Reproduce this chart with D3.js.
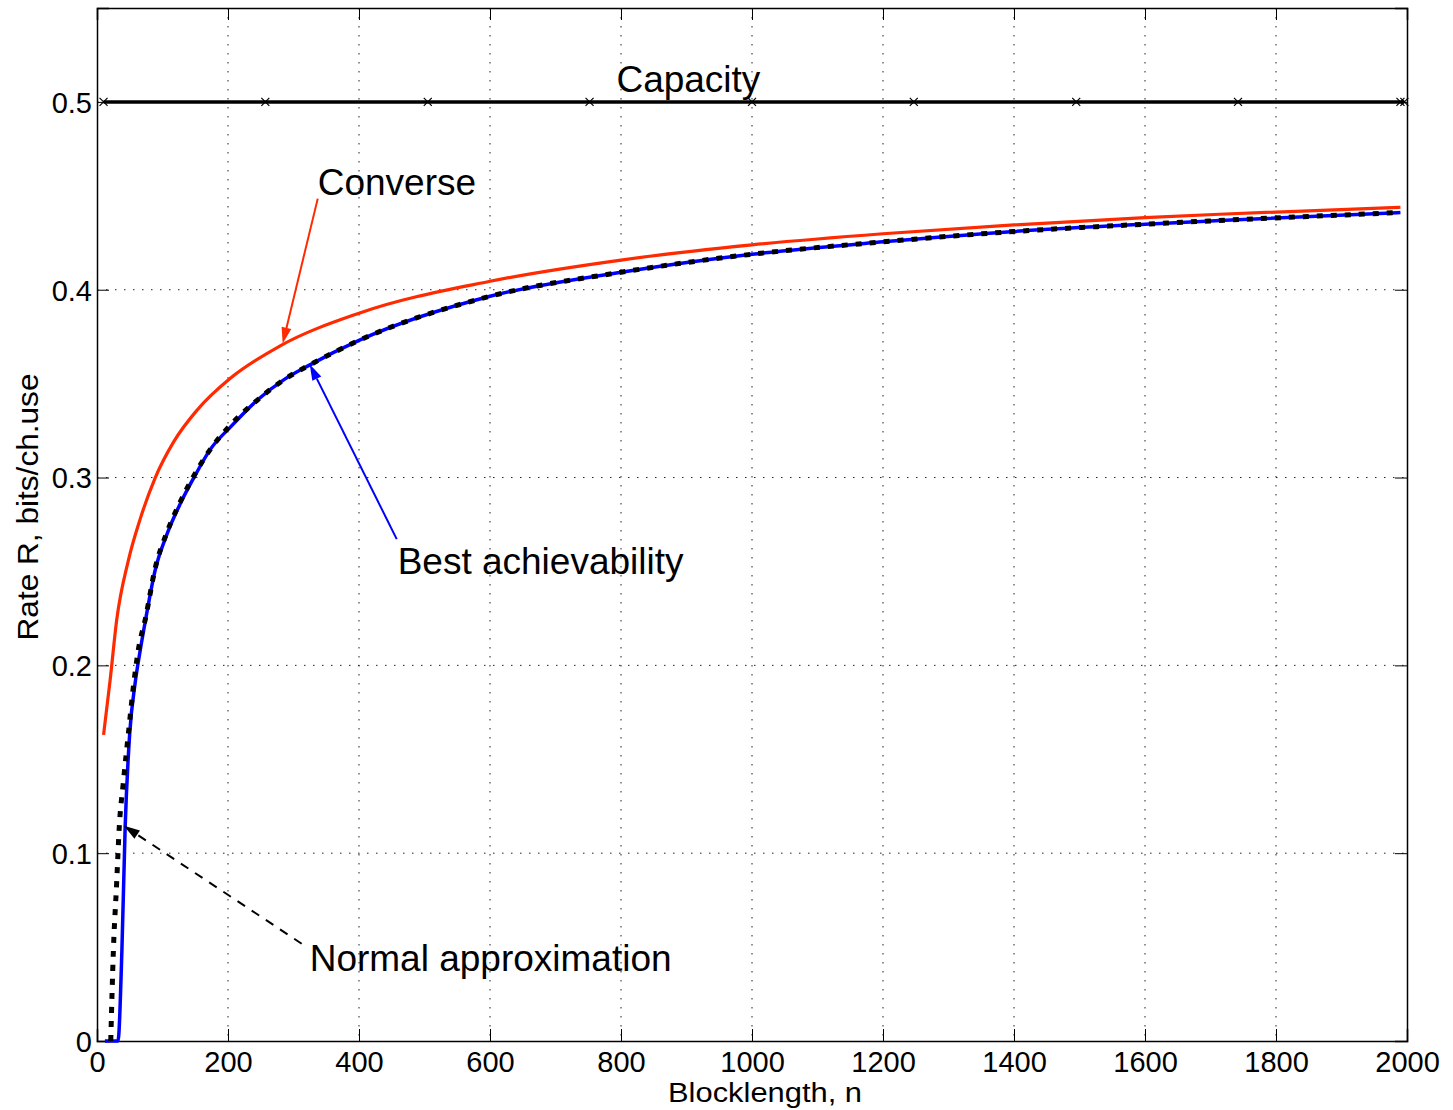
<!DOCTYPE html>
<html>
<head>
<meta charset="utf-8">
<script src="https://cdnjs.cloudflare.com/ajax/libs/d3/7.8.5/d3.min.js"></script>
<style>
  body { margin: 0; background: #fff; }
  text { font-family: "Liberation Sans", Arial, Helvetica, sans-serif; fill: #000; }
</style>
</head>
<body>
<div id="chart"></div>
<script>
// blocklength ticks / rate ticks
var xTicks = [0, 200, 400, 600, 800, 1000, 1200, 1400, 1600, 1800, 2000];
var yTicks = [0, 0.1, 0.2, 0.3, 0.4, 0.5];

// capacity (with x markers)
var capN = [10, 257, 505, 752, 1000, 1247, 1495, 1742, 1990, 1996];
var capR = [0.5, 0.5, 0.5, 0.5, 0.5, 0.5, 0.5, 0.5, 0.5, 0.5];

// converse bound
var convN = [10, 20, 30, 48, 66, 89, 117, 153, 204, 279, 400, 600, 800, 1000, 1200, 1400, 1600, 1714, 1990];
var convR = [0.163, 0.192, 0.224, 0.256, 0.278, 0.300, 0.319, 0.336, 0.353, 0.37, 0.3875, 0.4045, 0.4158, 0.4239, 0.4298, 0.4345, 0.4384, 0.4402, 0.4439];

// best achievability
var achN = [12, 32, 38, 43, 50, 58, 66, 74, 89, 107, 127, 148, 173, 204, 244, 285, 325, 400, 600, 800, 1000, 1200, 1400, 1600, 1714, 1990];
var achR = [0, 0, 0.048, 0.114, 0.164, 0.19, 0.208, 0.224, 0.251, 0.270, 0.286, 0.300, 0.315, 0.327, 0.341, 0.352, 0.360, 0.373, 0.3965, 0.4093, 0.4189, 0.4255, 0.431, 0.4349, 0.4368, 0.4411];

// normal approximation
var naN = [21, 25, 30, 34, 40, 48, 56, 63, 74, 89, 107, 127, 148, 173, 204, 244, 285, 325, 400, 600, 800, 1000, 1200, 1400, 1600, 1990];
var naR = [0, 0.048, 0.084, 0.114, 0.137, 0.164, 0.190, 0.208, 0.225, 0.252, 0.271, 0.287, 0.301, 0.315, 0.328, 0.341, 0.352, 0.360, 0.373, 0.3965, 0.4093, 0.4189, 0.4255, 0.431, 0.4349, 0.4411];

// annotations, in data units: text anchor, arrow start, arrow tip
var notes = [
	{text: "Capacity", tx: 793, ty: 0.5055, color: null},
	{text: "Converse", tx: 337, ty: 0.4502, x0: 337, y0: 0.4485, x1: 283.5, y1: 0.3714, color: "#ff2a00", dash: null},
	{text: "Best achievability", tx: 459, ty: 0.2486, x0: 457.6, y0: 0.2672, x1: 324.7, y1: 0.3603, color: "#0000ff", dash: null},
	{text: "Normal approximation", tx: 324.7, ty: 0.0374, x0: 312.5, y0: 0.0518, x1: 41, y1: 0.1146, color: "#000", dash: "9,8"}
];

var W = 1453, H = 1110;
var margin = {top: 8, right: 46, bottom: 69, left: 97};
var w = W - margin.left - margin.right;
var h = H - margin.top - margin.bottom;

var svg = d3.select("#chart").append("svg")
	.attr("width", W)
	.attr("height", H);
svg.append("rect").attr("width", W).attr("height", H).attr("fill", "#fff");

var g = svg.append("g").attr("transform", "translate(" + margin.left + "," + margin.top + ")");

var x = d3.scaleLinear().domain([0, 2000]).range([0, w]);
var y = d3.scaleLinear().domain([0, 0.55]).range([h, 0]);

// grid
g.append("g").selectAll("line").data(xTicks.slice(1, -1)).enter().append("line")
	.attr("x1", function(d) { return x(d); }).attr("x2", function(d) { return x(d); })
	.attr("y1", 0).attr("y2", h)
	.attr("stroke", "#222").attr("stroke-width", 1).attr("stroke-dasharray", "1.5,7.5");
g.append("g").selectAll("line").data(yTicks.slice(1)).enter().append("line")
	.attr("y1", function(d) { return y(d); }).attr("y2", function(d) { return y(d); })
	.attr("x1", 0).attr("x2", w)
	.attr("stroke", "#222").attr("stroke-width", 1).attr("stroke-dasharray", "1.5,7.5");

// axes, ticks inward on all four sides
var fmtY = function(d) { return d === 0 ? "0" : d3.format(".1f")(d); };
var xb = g.append("g").attr("transform", "translate(0," + h + ")")
	.call(d3.axisBottom(x).tickValues(xTicks).tickSize(-12).tickFormat(d3.format("d")));
var xt = g.append("g")
	.call(d3.axisTop(x).tickValues(xTicks).tickSize(-12).tickFormat(""));
var yl = g.append("g")
	.call(d3.axisLeft(y).tickValues(yTicks).tickSize(-12).tickPadding(5).tickFormat(fmtY));
var yr = g.append("g").attr("transform", "translate(" + w + ",0)")
	.call(d3.axisRight(y).tickValues(yTicks).tickSize(-12).tickFormat(""));
[xb, xt, yl, yr].forEach(function(a) {
	a.select(".domain").attr("stroke", "#000").attr("stroke-width", 1.5);
	a.selectAll(".tick line").attr("stroke", "#000").attr("stroke-width", 1);
	a.selectAll("text").attr("font-size", 29).attr("font-family", "Liberation Sans, Arial, sans-serif").attr("fill", "#000");
});
xb.selectAll(".tick text").attr("dy", null).attr("y", 31);
yl.selectAll(".tick text").attr("dy", "0.36em");

var zip = function(a, b) { return a.map(function(v, i) { return [v, b[i]]; }); };
var lineOf = function(curve) {
	return d3.line()
		.x(function(d) { return x(d[0]); })
		.y(function(d) { return y(d[1]); })
		.curve(curve);
};

// capacity
g.append("path").datum(zip(capN, capR))
	.attr("d", lineOf(d3.curveLinear))
	.attr("fill", "none").attr("stroke", "#000").attr("stroke-width", 3.5);
g.append("g").selectAll("path").data(zip(capN, capR)).enter().append("path")
	.attr("transform", function(d) { return "translate(" + x(d[0]) + "," + y(d[1]) + ")"; })
	.attr("d", "M-4,-4L4,4M-4,4L4,-4")
	.attr("stroke", "#000").attr("stroke-width", 1.2).attr("fill", "none");

// converse
g.append("path").datum(zip(convN, convR))
	.attr("d", lineOf(d3.curveMonotoneX)).attr("fill", "none")
	.attr("stroke", "#ff2a00").attr("stroke-width", 3.2);

// achievability
g.append("path").datum(zip(achN, achR))
	.attr("d", lineOf(d3.curveMonotoneX)).attr("fill", "none")
	.attr("stroke", "#0000ff").attr("stroke-width", 3.5);

// normal approximation
g.append("path").datum(zip(naN, naR))
	.attr("d", lineOf(d3.curveMonotoneX)).attr("fill", "none")
	.attr("stroke", "#000").attr("stroke-width", 5).attr("stroke-dasharray", "6,8");

// annotations
notes.forEach(function(a) {
	g.append("text").attr("x", x(a.tx)).attr("y", y(a.ty))
		.attr("font-size", 37).text(a.text);
	if (a.x0 === undefined) return;
	var px0 = x(a.x0), py0 = y(a.y0), px1 = x(a.x1), py1 = y(a.y1);
	var ang = Math.atan2(py1 - py0, px1 - px0);
	var len = 16, hw = 5;
	var bx = px1 - len * Math.cos(ang), by = py1 - len * Math.sin(ang);
	g.append("line").attr("x1", px0).attr("y1", py0).attr("x2", bx).attr("y2", by)
		.attr("stroke", a.color).attr("stroke-width", 2)
		.attr("stroke-dasharray", a.dash);
	var pts = [[px1, py1],
		[bx + hw * Math.sin(ang), by - hw * Math.cos(ang)],
		[bx - hw * Math.sin(ang), by + hw * Math.cos(ang)]];
	g.append("polygon").attr("points", pts.map(function(p) { return p.join(","); }).join(" "))
		.attr("fill", a.color);
});

// axis labels
svg.append("text").attr("x", 765).attr("y", 1102)
	.attr("text-anchor", "middle").attr("font-size", 27)
	.attr("textLength", 194).attr("lengthAdjust", "spacingAndGlyphs")
	.text("Blocklength, n");
svg.append("text").attr("transform", "translate(38,507) rotate(-90)")
	.attr("text-anchor", "middle").attr("font-size", 29)
	.attr("textLength", 267).attr("lengthAdjust", "spacingAndGlyphs")
	.text("Rate R,  bits/ch.use");
</script>
</body>
</html>
